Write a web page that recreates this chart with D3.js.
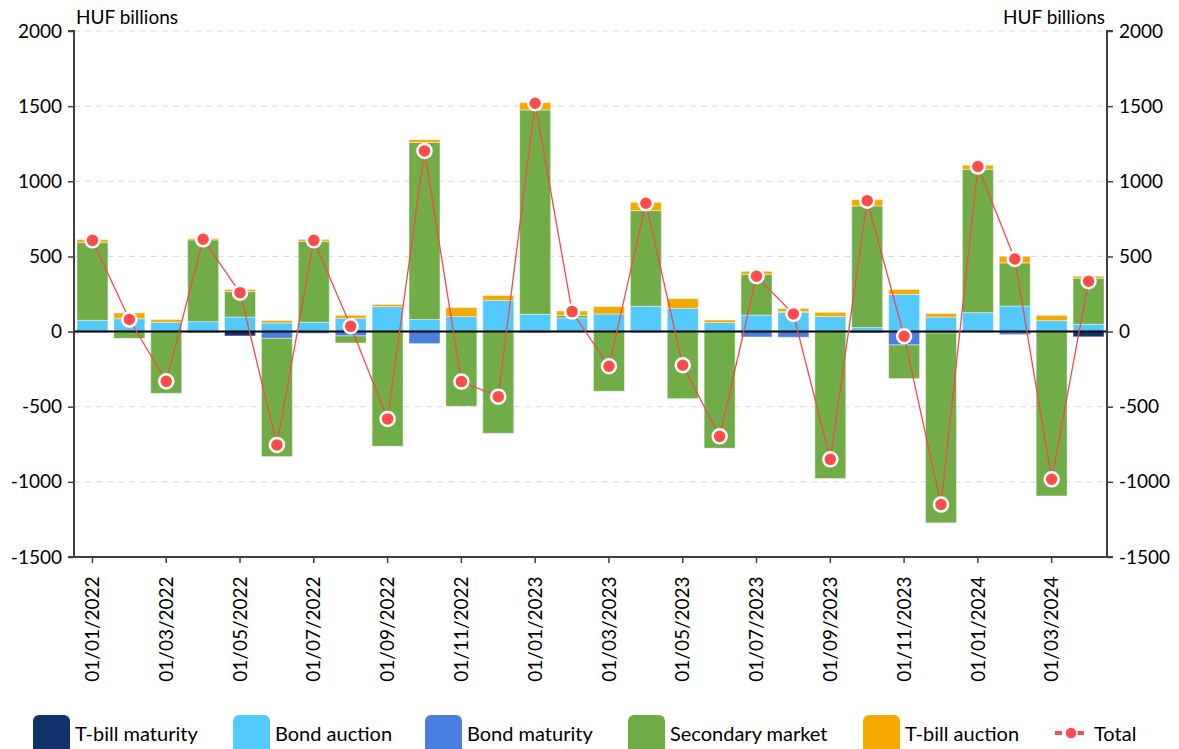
<!DOCTYPE html>
<html><head><meta charset="utf-8">
<script src="https://cdn.jsdelivr.net/npm/d3@7"></script>
<style>
html,body{margin:0;padding:0;background:#fff;}
svg{display:block;font-family:Lato,"Open Sans",sans-serif;}
</style></head>
<body><svg id="c" width="1179" height="749"></svg>
<script>
const months = ["01/01/2022","01/02/2022","01/03/2022","01/04/2022","01/05/2022","01/06/2022","01/07/2022","01/08/2022","01/09/2022","01/10/2022","01/11/2022","01/12/2022",
"01/01/2023","01/02/2023","01/03/2023","01/04/2023","01/05/2023","01/06/2023","01/07/2023","01/08/2023","01/09/2023","01/10/2023","01/11/2023","01/12/2023",
"01/01/2024","01/02/2024","01/03/2024","01/04/2024"];
const tbillMaturity = [-5,0,0,-7,-29,0,0,0,0,0,0,0,-7,-4,0,-6,0,0,0,0,0,-8,0,-10,-5,0,0,-35];
const bondAuction   = [75,86,62,66,97,57,62,88,166,80,100,208,115,91,117,168,155,60,110,128,100,27,248,97,126,170,73,49];
const bondMaturity  = [0,0,0,0,0,-45,-12,-29,0,-80,0,0,0,0,0,0,0,0,-36,-38,0,0,-89,0,0,-20,0,0];
const secondary     = [519,-45,-411,544,169,-787,539,-47,-763,1179,-497,-677,1360,17,-397,637,-446,-776,271,5,-978,809,-224,-1263,954,287,-1094,306];
const tbillAuction  = [18,38,18,9,15,16,13,20,14,18,60,32,49,29,49,55,64,17,20,20,28,42,32,23,27,44,35,13];
const total         = [607,80,-331,614,259,-754,607,35,-581,1202,-333,-433,1519,133,-231,854,-224,-697,368,117,-850,871,-31,-1151,1098,483,-983,335];
const yTicks = [-1500,-1000,-500,0,500,1000,1500,2000];
const seriesNames = ["T-bill maturity","Bond auction","Bond maturity","Secondary market","T-bill auction"];
const seriesColors = ["#12326b","#53c9fd","#4a7fdf","#70ad47","#f5a800"];
const seriesValues = [tbillMaturity,bondAuction,bondMaturity,secondary,tbillAuction];

const svg = d3.select("#c");
const L = 74, R = 1107, T = 31, B = 557;
const x = d3.scaleBand().domain(months).range([L,R]).paddingInner(0.16).paddingOuter(0.08);
const y = d3.scaleLinear().domain([-1500,2000]).range([B,T]);

// grid
svg.append("g").selectAll("line").data(yTicks.filter(v=>v!==-1500 && v!==0)).join("line")
  .attr("x1",L).attr("x2",R).attr("y1",d=>y(d)).attr("y2",d=>y(d))
  .attr("stroke","#d9d9d9").attr("stroke-width",1).attr("stroke-dasharray","6,5");

// stacked data
const table = months.map((m,i)=>{const o={month:m}; seriesNames.forEach((s,j)=>o[s]=seriesValues[j][i]); return o;});
const stack = d3.stack().keys(seriesNames).offset(d3.stackOffsetDiverging)(table);
svg.append("g").selectAll("g").data(stack).join("g")
  .attr("fill",(d,i)=>seriesColors[i])
  .selectAll("rect").data(d=>d).join("rect")
  .attr("x",d=>x(d.data.month)).attr("width",x.bandwidth())
  .attr("y",d=>y(Math.max(d[0],d[1]))).attr("height",d=>Math.abs(y(d[0])-y(d[1])))
  .attr("stroke","rgba(255,255,255,0.45)").attr("stroke-width",1);

// zero line
svg.append("line").attr("x1",L).attr("x2",R).attr("y1",y(0)).attr("y2",y(0)).attr("stroke","#000").attr("stroke-width",2);

// axes
const fs = 19;
const fmt = d=>String(d);
const yl = svg.append("g").attr("transform",`translate(${L},0)`).call(d3.axisLeft(y).tickValues(yTicks).tickSize(6).tickPadding(6).tickFormat(fmt));
const yr = svg.append("g").attr("transform",`translate(${R},0)`).call(d3.axisRight(y).tickValues(yTicks).tickSize(6).tickPadding(6).tickFormat(fmt));
const xa = svg.append("g").attr("transform",`translate(0,${B})`).call(d3.axisBottom(x).tickValues(months.filter((m,i)=>i%2===0)).tickSize(6).tickSizeOuter(0).tickPadding(8));
[yl,yr,xa].forEach(g=>{
  g.select(".domain").attr("stroke","#404040").attr("stroke-width",2);
  g.selectAll(".tick line").attr("stroke","#404040").attr("stroke-width",1.5);
  g.selectAll("text").attr("font-size",fs).attr("fill","#000").attr("font-family","Lato, sans-serif");
});
yl.select(".domain").attr("d",`M-6,${T}H0V${B}H-6`);
yr.select(".domain").attr("d",`M6,${T}H0V${B}H6`);
xa.select(".domain").attr("d",`M${L},0H${R}`);
xa.selectAll("text").attr("transform","rotate(-90)").attr("text-anchor","end").attr("dx","-0.6em").attr("dy","0.35em").attr("y",0).attr("x",-8);

// units
svg.append("text").attr("x",L+2).attr("y",24).attr("font-size",fs).text("HUF billions");
svg.append("text").attr("x",R-2).attr("y",24).attr("font-size",fs).attr("text-anchor","end").text("HUF billions");

// total line
const cx = m=>x(m)+x.bandwidth()/2;
svg.append("path").datum(total).attr("fill","none").attr("stroke","#f24a4a").attr("stroke-width",1.3)
  .attr("d",d3.line().x((d,i)=>cx(months[i])).y(d=>y(d)));
svg.append("g").selectAll("circle").data(total).join("circle")
  .attr("cx",(d,i)=>cx(months[i])).attr("cy",d=>y(d)).attr("r",7)
  .attr("fill","#ff4b4b").attr("stroke","#fff").attr("stroke-width",2.5);

// legend
const legX = [33,233,425,628,863];
const lg = svg.append("g");
seriesNames.forEach((s,i)=>{
  lg.append("rect").attr("x",legX[i]).attr("y",715).attr("width",37).attr("height",40).attr("rx",6).attr("fill",seriesColors[i]);
  lg.append("text").attr("x",legX[i]+42).attr("y",741).attr("font-size",20).text(s);
});
lg.append("line").attr("x1",1055).attr("x2",1086).attr("y1",733).attr("y2",733).attr("stroke","#ff4b4b").attr("stroke-width",4).attr("stroke-dasharray","7,4");
lg.append("circle").attr("cx",1071).attr("cy",733).attr("r",6).attr("fill","#ff4b4b").attr("stroke","#fff").attr("stroke-width",1.5);
lg.append("text").attr("x",1094).attr("y",741).attr("font-size",20).text("Total");
</script></body></html>
